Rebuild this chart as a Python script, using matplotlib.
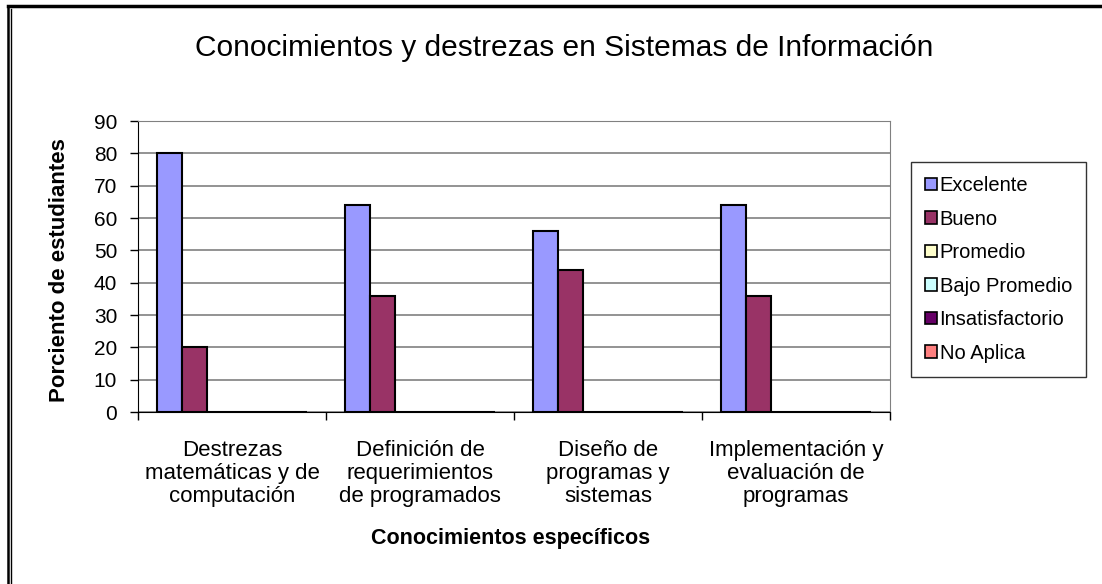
import matplotlib
matplotlib.use("Agg")
import matplotlib.pyplot as plt
from matplotlib.lines import Line2D
import numpy as np

plt.rcParams['font.family'] = ['Liberation Sans', 'DejaVu Sans']

categorias = ["Destrezas\nmatemáticas y de\ncomputación",
              "Definición de\nrequerimientos\nde programados",
              "Diseño de\nprogramas y\nsistemas",
              "Implementación y\nevaluación de\nprogramas"]
series = ["Excelente", "Bueno", "Promedio", "Bajo Promedio",
          "Insatisfactorio", "No Aplica"]
excelente = [80, 64, 56, 64]
bueno = [20, 36, 44, 36]
promedio = [0, 0, 0, 0]
bajo_promedio = [0, 0, 0, 0]
insatisfactorio = [0, 0, 0, 0]
no_aplica = [0, 0, 0, 0]
valores = [excelente, bueno, promedio, bajo_promedio, insatisfactorio, no_aplica]
colores = ["#9999FF", "#993366", "#FFFFCC", "#CCFFFF", "#660066", "#FF8080"]

fig = plt.figure(figsize=(11.02, 5.84), dpi=100)
ax = fig.add_axes([0.1252, 0.2945, 0.6824, 0.4983])

x = np.arange(len(categorias))
ancho = 0.8 / len(series)
for i, (nombre, vals, c) in enumerate(zip(series, valores, colores)):
    pos = x - 0.4 + ancho * (i + 0.5)
    ax.bar(pos, vals, width=ancho, color=c, edgecolor="black", linewidth=1.5,
           label=nombre, zorder=3)

ax.set_xlim(-0.5, len(categorias) - 0.5)
ax.set_ylim(0, 90)
ax.set_yticks(range(0, 91, 10))
ax.yaxis.grid(True, color="#808080", linewidth=1.2, zorder=0)
ax.tick_params(axis="y", length=6, width=1, labelsize=15, pad=9)
ax.set_xticks(np.arange(-0.5, len(categorias)), labels=[])
ax.tick_params(axis="x", which="major", length=6, width=1)
ax.set_xticks(x, labels=categorias, minor=True)
ax.tick_params(axis="x", which="minor", length=0, labelsize=16, pad=20)
for lab in ax.get_xticklabels(minor=True):
    lab.set_linespacing(1.12)

ax.spines["left"].set_color("black")
ax.spines["bottom"].set_color("black")
ax.spines["top"].set_color("#808080")
ax.spines["right"].set_color("#808080")

ax.set_ylabel("Porciento de estudiantes", fontsize=16, fontweight="bold")
ax.yaxis.set_label_coords(-0.1037, 0.488)
ax.yaxis.label.set_va("center")
ax.set_xlabel("Conocimientos específicos", fontsize=15.5, fontweight="bold")
ax.xaxis.set_label_coords(0.4958, -0.433)
ax.xaxis.label.set_va("center")
fig.text(0.5118, 0.9178, "Conocimientos y destrezas en Sistemas de Información",
         ha="center", va="center", fontsize=21.5)

leg = ax.legend(loc="upper left", bbox_to_anchor=(0.8267, 0.7226),
                bbox_transform=fig.transFigure, frameon=True, fontsize=14.5,
                handlelength=0.6, handleheight=0.6, handletextpad=0.12,
                labelspacing=0.72, borderpad=0.7, borderaxespad=0,
                fancybox=False)
leg.get_frame().set_edgecolor("black")
leg.get_frame().set_linewidth(1)
for h in leg.legend_handles:
    h.set_linewidth(1.2)

# marco de la figura
fig.add_artist(Line2D([0.0072, 1], [0.9889, 0.9889], color="black", linewidth=2.5))
fig.add_artist(Line2D([0.0072, 0.0072], [0, 0.9889], color="black", linewidth=1.8))
fig.add_artist(Line2D([0.0100, 0.0100], [0, 0.984], color="black", linewidth=1.0))

fig.savefig("out.png", dpi=100)
